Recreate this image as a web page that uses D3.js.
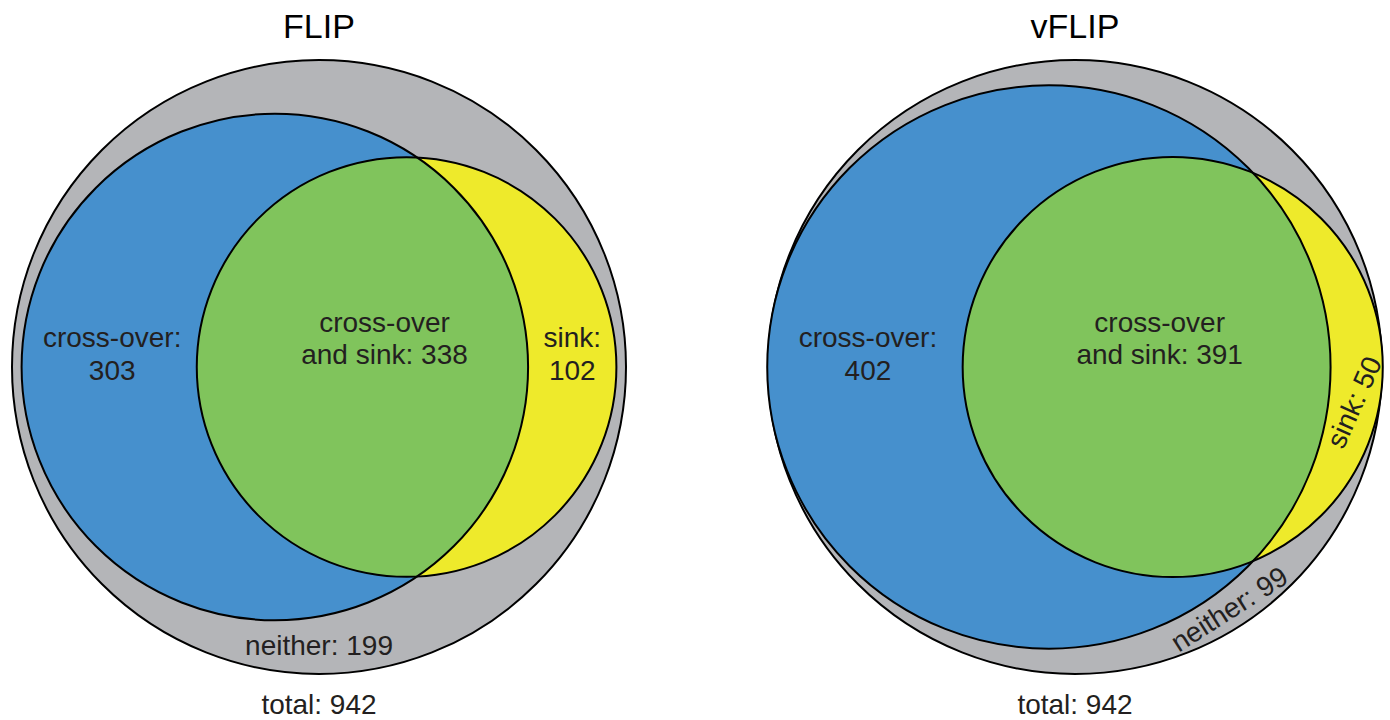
<!DOCTYPE html>
<html><head><meta charset="utf-8">
<script src="https://cdn.jsdelivr.net/npm/d3@7"></script>
<style>body{margin:0;background:#fff} svg{display:block}</style>
</head><body>
<svg id="chart" width="1390" height="720"></svg>
<script>
// ---- data ----
const panels = ["FLIP", "vFLIP"];
const crossOverOnly = [303, 402];
const crossOverAndSink = [338, 391];
const sinkOnly = [102, 50];
const neither = [199, 99];
const totals = [942, 942];

// ---- layout ----
const W = 1390, H = 720, CY = 367;
const colors = {outer: "#b4b5b8", cross: "#4690cd", sink: "#eeea2b", both: "#80c45c", stroke: "#000", text: "#231f20"};
const font = "'Liberation Sans', Arial, Helvetica, sans-serif";
const sinkRotation = [0, -66], sinkAngle = [0, 11];
const neitherAngle = [90, 57.5];

const svg = d3.select("#chart");
const x = d3.scalePoint().domain(panels).range([319, 1075]);
const r = d3.scaleSqrt().domain([0, d3.max(totals)]).range([0, 307]);

function lensArea(d, r1, r2) {
  if (d >= r1 + r2) return 0;
  if (d <= Math.abs(r1 - r2)) return Math.PI * Math.min(r1, r2) ** 2;
  const a1 = Math.acos((d*d + r1*r1 - r2*r2) / (2*d*r1));
  const a2 = Math.acos((d*d + r2*r2 - r1*r1) / (2*d*r2));
  const k = Math.sqrt((-d+r1+r2)*(d+r1-r2)*(d-r1+r2)*(d+r1+r2));
  return r1*r1*a1 + r2*r2*a2 - 0.5*k;
}
function solveDistance(r1, r2, area) {
  let lo = Math.abs(r1 - r2), hi = r1 + r2;
  for (let i = 0; i < 80; i++) {
    const mid = (lo + hi) / 2;
    if (lensArea(mid, r1, r2) > area) lo = mid; else hi = mid;
  }
  return (lo + hi) / 2;
}
// distance t along ray from point p (unit u) to circle (c, rad)
function rayHit(p, u, c, rad) {
  const ox = p[0] - c[0], oy = p[1] - c[1];
  const b = ox*u[0] + oy*u[1];
  const cc = ox*ox + oy*oy - rad*rad;
  return -b + Math.sqrt(b*b - cc);
}

panels.forEach((name, i) => {
  const cx0 = x(name);
  const R = r(totals[i]);
  const r1 = r(crossOverOnly[i] + crossOverAndSink[i]);
  const r2 = r(sinkOnly[i] + crossOverAndSink[i]);
  const unitArea = Math.PI * R * R / totals[i];
  const d = solveDistance(r1, r2, crossOverAndSink[i] * unitArea);
  const span = r1 + d + r2;
  const bx = cx0 - span / 2 + r1;
  const yx = bx + d;

  const g = svg.append("g");
  g.append("circle").attr("cx", cx0).attr("cy", CY).attr("r", R)
    .attr("fill", colors.outer).attr("stroke", colors.stroke).attr("stroke-width", 2);
  g.append("circle").attr("cx", bx).attr("cy", CY).attr("r", r1).attr("fill", colors.cross);
  g.append("circle").attr("cx", yx).attr("cy", CY).attr("r", r2).attr("fill", colors.sink);
  const clipId = "clipBlue" + i;
  g.append("clipPath").attr("id", clipId)
    .append("circle").attr("cx", bx).attr("cy", CY).attr("r", r1);
  g.append("circle").attr("cx", yx).attr("cy", CY).attr("r", r2)
    .attr("fill", colors.both).attr("clip-path", `url(#${clipId})`);
  g.append("circle").attr("cx", bx).attr("cy", CY).attr("r", r1)
    .attr("fill", "none").attr("stroke", colors.stroke).attr("stroke-width", 2);
  g.append("circle").attr("cx", yx).attr("cy", CY).attr("r", r2)
    .attr("fill", "none").attr("stroke", colors.stroke).attr("stroke-width", 2);

  const txt = (sel) => sel.attr("font-family", font).attr("fill", colors.text)
    .attr("text-anchor", "middle");

  // title
  txt(svg.append("text")).attr("x", cx0).attr("y", 38).attr("font-size", 34)
    .attr("fill", "#000").text(name);
  // total
  txt(svg.append("text")).attr("x", cx0).attr("y", 714).attr("font-size", 28)
    .text("total: " + totals[i]);

  // cross-over only
  const coX = ((bx - r1) + (yx - r2)) / 2 + 3;
  const co = txt(g.append("text")).attr("font-size", 28);
  co.append("tspan").attr("x", coX).attr("y", CY - 20).text("cross-over:");
  co.append("tspan").attr("x", coX).attr("y", CY + 13).text(crossOverOnly[i]);

  // both
  const lensX = (((yx - r2) + (bx + r1)) / 2 + yx) / 2;
  const bo = txt(g.append("text")).attr("font-size", 28);
  bo.append("tspan").attr("x", lensX).attr("y", CY - 35).text("cross-over");
  bo.append("tspan").attr("x", lensX).attr("y", CY - 3).text("and sink: " + crossOverAndSink[i]);

  // sink only
  const sa = sinkAngle[i] * Math.PI / 180;
  const su = [Math.cos(sa), Math.sin(sa)];
  const tIn = rayHit([yx, CY], su, [bx, CY], r1);
  const tm = (tIn + r2) / 2;
  const sp = [yx + su[0] * tm, CY + su[1] * tm];
  if (sinkRotation[i] === 0) {
    const sk = txt(g.append("text")).attr("font-size", 28);
    sk.append("tspan").attr("x", sp[0]).attr("y", sp[1] - 20).text("sink:");
    sk.append("tspan").attr("x", sp[0]).attr("y", sp[1] + 13).text(sinkOnly[i]);
  } else {
    txt(g.append("text")).attr("font-size", 28)
      .attr("transform", `translate(${sp[0]},${sp[1]}) rotate(${sinkRotation[i]})`)
      .attr("dy", "0.35em").text("sink: " + sinkOnly[i]);
  }

  // neither
  const na = neitherAngle[i] * Math.PI / 180;
  const nu = [Math.cos(na), Math.sin(na)];
  const tb = rayHit([cx0, CY], nu, [bx, CY], r1);
  const tn = (tb + R) / 2;
  const np = [cx0 + nu[0] * tn, CY + nu[1] * tn];
  txt(g.append("text")).attr("font-size", 28)
    .attr("transform", `translate(${np[0]},${np[1]}) rotate(${neitherAngle[i] - 90})`)
    .attr("dy", "0.35em").text("neither: " + neither[i]);
});
</script>
</body></html>
